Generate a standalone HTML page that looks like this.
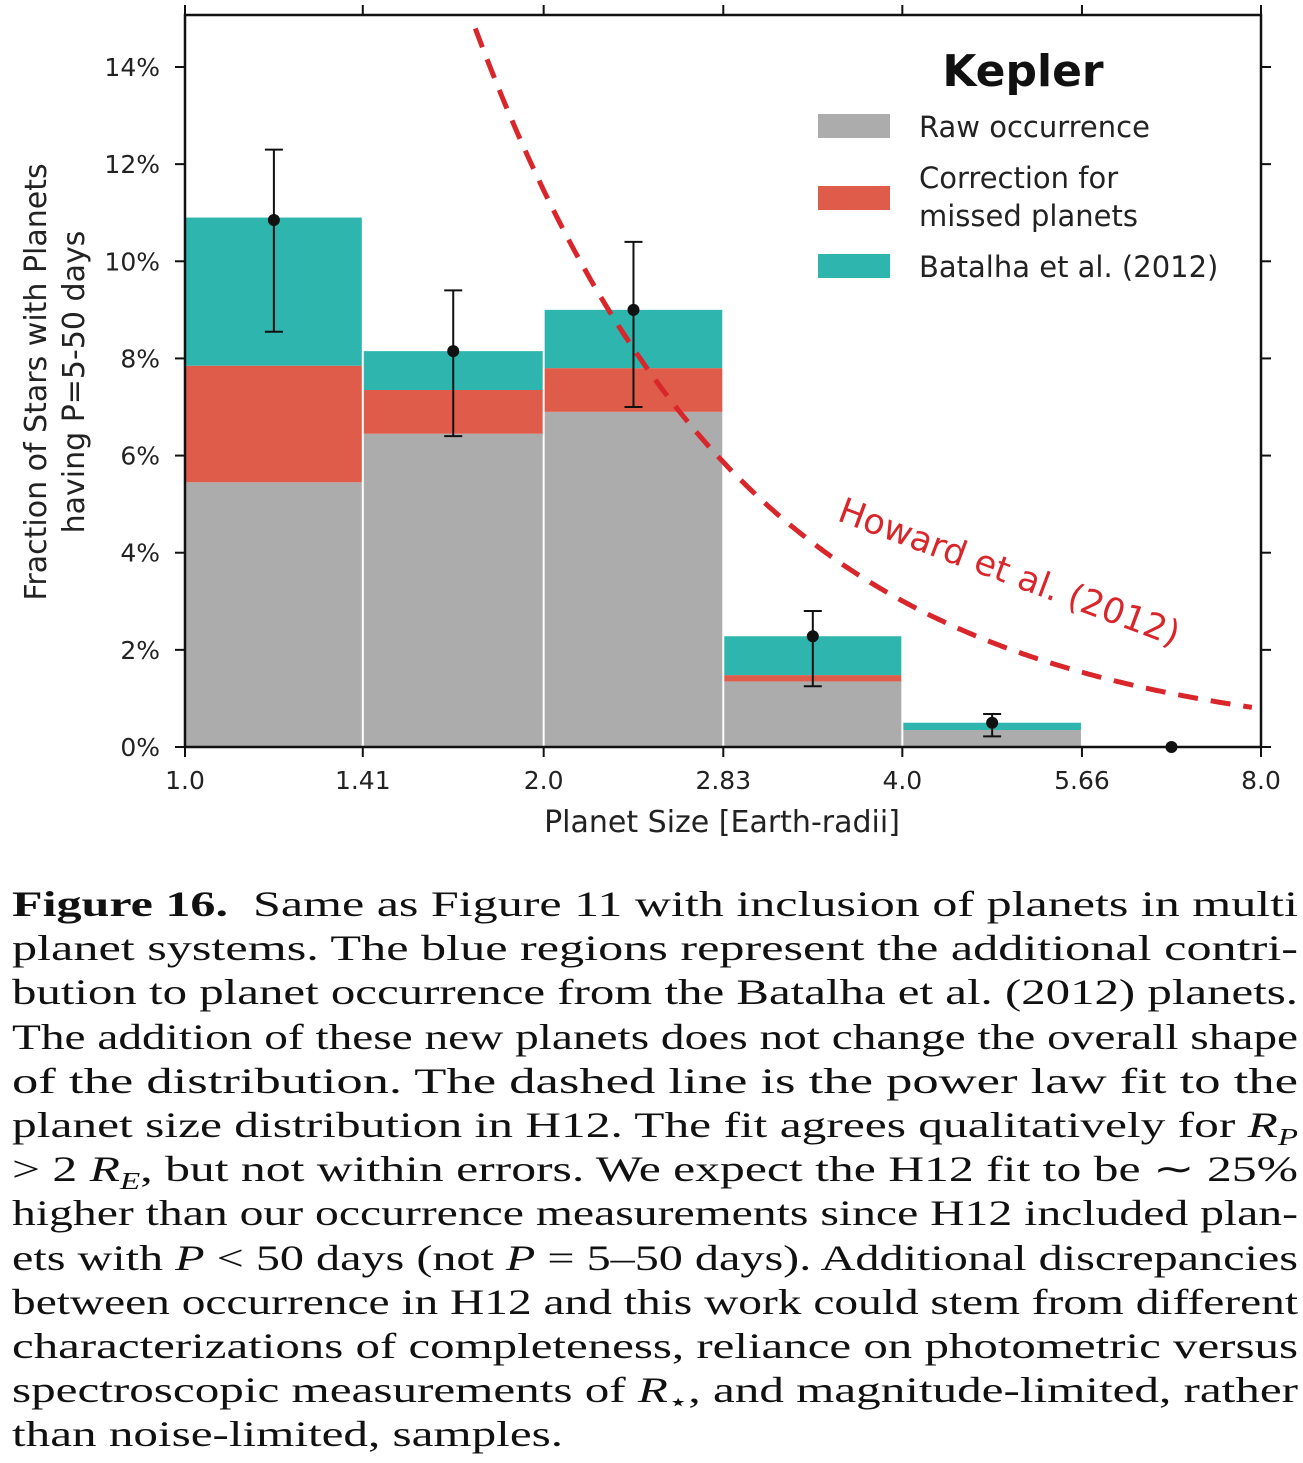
<!DOCTYPE html>
<html><head><meta charset="utf-8"><style>
html,body{margin:0;padding:0;background:#fff;width:1303px;height:1463px;overflow:hidden}
#chart{position:absolute;left:0;top:0}
#caption{position:absolute;left:12px;top:882px;width:1286px;font-family:"Liberation Serif",serif;font-size:36px;line-height:44.2px;color:#111}
#caption div{height:44.2px;white-space:nowrap;overflow:visible}
#caption div span{display:inline-block;transform-origin:0 50%;white-space:nowrap}
</style></head><body>
<svg id="chart" width="1303" height="860" font-family="'DejaVu Sans','Liberation Sans',sans-serif"></svg>
<div id="caption">
<div><span><b>Figure 16.</b>&nbsp; Same as Figure 11 with inclusion of planets in multi</span></div>
<div><span>planet systems. The blue regions represent the additional contri-</span></div>
<div><span>bution to planet occurrence from the Batalha et al. (2012) planets.</span></div>
<div><span>The addition of these new planets does not change the overall shape</span></div>
<div><span>of the distribution. The dashed line is the power law fit to the</span></div>
<div><span>planet size distribution in H12. The fit agrees qualitatively for <i>R<sub style="font-size:24px">P</sub></i></span></div>
<div><span>&gt; 2 <i>R<sub style="font-size:24px">E</sub></i>, but not within errors. We expect the H12 fit to be ∼ 25%</span></div>
<div><span>higher than our occurrence measurements since H12 included plan-</span></div>
<div><span>ets with <i>P</i> &lt; 50 days (not <i>P</i> = 5–50 days). Additional discrepancies</span></div>
<div><span>between occurrence in H12 and this work could stem from different</span></div>
<div><span>characterizations of completeness, reliance on photometric versus</span></div>
<div><span>spectroscopic measurements of <i>R</i><sub style="font-size:24px">⋆</sub>, and magnitude-limited, rather</span></div>
<div class="last"><span>than noise-limited, samples.</span></div>
</div>
<script>
const binEdges=[1.0,1.41,2.0,2.83,4.0,5.66,8.0];
const rawOcc=[5.45,6.45,6.9,1.35,0.35,0];
const correctedOcc=[7.85,7.35,7.8,1.48,0.35,0];
const batalhaOcc=[10.9,8.15,9.0,2.28,0.5,0];
const pointVal=[10.85,8.15,9.0,2.28,0.5,0];
const errLo=[8.55,6.4,7.0,1.25,0.22,0];
const errHi=[12.3,9.4,10.4,2.8,0.68,0];
const yTicks=[0,2,4,6,8,10,12,14];
const xTickLabels=["1.0","1.41","2.0","2.83","4.0","5.66","8.0"];
const howardC=14.8, howardR0=1.752, howardAlpha=1.93;

const svg=document.getElementById('chart');
const NS='http://www.w3.org/2000/svg';
const L=185,R=1261,T=15,B=747;
const xs=v=>L+(Math.log2(v)/3)*(R-L);
const ys=v=>B-v/14*(B-67);
function mk(tag,at,parent){const e=document.createElementNS(NS,tag);for(const k in at)e.setAttribute(k,at[k]);(parent||svg).appendChild(e);return e;}
function txt(s,at){const e=mk('text',at);e.textContent=s;return e;}

for(let i=0;i<rawOcc.length;i++){
  const x0=xs(binEdges[i]),x1=xs(binEdges[i+1]);
  const g=mk('rect',{x:x0+1,y:ys(rawOcc[i]),width:x1-x0-2,height:B-ys(rawOcc[i]),fill:'#acacac'});
  
  
  const r=mk('rect',{x:x0+1,y:ys(correctedOcc[i]),width:x1-x0-2,height:ys(rawOcc[i])-ys(correctedOcc[i]),fill:'#e05c4a'});
  
  
  const t=mk('rect',{x:x0+1,y:ys(batalhaOcc[i]),width:x1-x0-2,height:ys(correctedOcc[i])-ys(batalhaOcc[i]),fill:'#2db5ae'});
  
  
}
let d='';
for(let k=0;k<=400;k++){const r=1+k*7/400;const f=howardC*Math.pow(r/howardR0,-howardAlpha);if(ys(f)<T+12)continue;const px=xs(r);if(px>1252)break;d+=(d?'L':'M')+px.toFixed(1)+','+ys(f).toFixed(1);}
const hl=mk('path',{d:d,fill:'none',stroke:'#d9262b','stroke-width':5,'stroke-dasharray':'20,13'});


const ht=txt('Howard et al. (2012)',{x:0,y:0,'font-size':35,fill:'#d9262b',transform:'translate(836,520) rotate(20.5)'});


for(let i=0;i<pointVal.length;i++){
  const cx=Math.sqrt(binEdges[i]*binEdges[i+1]);const px=xs(cx);
  const g=mk('g',{stroke:'#111','stroke-width':2});
  
  
  mk('line',{x1:px,x2:px,y1:ys(errLo[i]),y2:ys(errHi[i])},g);
  mk('line',{x1:px-9,x2:px+9,y1:ys(errLo[i]),y2:ys(errLo[i])},g);
  mk('line',{x1:px-9,x2:px+9,y1:ys(errHi[i]),y2:ys(errHi[i])},g);
  const c=mk('circle',{cx:px,cy:ys(pointVal[i]),r:6,fill:'#111'});
  
  
}
const fr=mk('rect',{x:L,y:T,width:R-L,height:B-T,fill:'none',stroke:'#111','stroke-width':2.5});


yTicks.forEach(v=>{
  mk('line',{x1:L-10,x2:L,y1:ys(v),y2:ys(v),stroke:'#111','stroke-width':2});
  mk('line',{x1:R,x2:R+10,y1:ys(v),y2:ys(v),stroke:'#111','stroke-width':2});
  const t=txt(v+'%',{x:160,y:ys(v)+9,'font-size':25,'text-anchor':'end',fill:'#222'});
  
  
});
binEdges.forEach((v,i)=>{
  const px=xs(v);
  mk('line',{x1:px,x2:px,y1:B,y2:B+10,stroke:'#111','stroke-width':2});
  mk('line',{x1:px,x2:px,y1:T-10,y2:T,stroke:'#111','stroke-width':2});
  const t=txt(xTickLabels[i],{x:px,y:789,'font-size':25,'text-anchor':'middle',fill:'#222'});
  
  
});
const xl=txt('Planet Size [Earth-radii]',{x:722,y:832,'font-size':30,'text-anchor':'middle',fill:'#222'});


const y1=txt('Fraction of Stars with Planets',{x:0,y:0,'font-size':30,'text-anchor':'middle',fill:'#222',transform:'translate(46,382) rotate(-90)'});


const y2=txt('having P=5-50 days',{x:0,y:0,'font-size':30,'text-anchor':'middle',fill:'#222',transform:'translate(84,382) rotate(-90)'});


const kt=txt('Kepler',{x:1023,y:86,'font-size':44,'font-weight':'bold','text-anchor':'middle',fill:'#111'});


const leg=[['#acacac',126,['Raw occurrence'],137],['#e05c4a',198,['Correction for','missed planets'],188],['#2db5ae',266,['Batalha et al. (2012)'],277]];
leg.forEach(([c,y,lines,ty],i)=>{
  const s=mk('rect',{x:818,y:y-12,width:72,height:24,fill:c});
  
  
  lines.forEach((l,j)=>{const t=txt(l,{x:919,y:ty+j*38,'font-size':29,fill:'#222'});
    
    });
});
// fit caption lines
const spans=[...document.querySelectorAll('#caption span')];
let lastS=1;
spans.forEach((s,i)=>{
  const w=s.getBoundingClientRect().width;
  if(i<spans.length-1){lastS=1286/w;}
  s.style.transform='scaleX('+lastS+')';
});
</script>
</body></html>
